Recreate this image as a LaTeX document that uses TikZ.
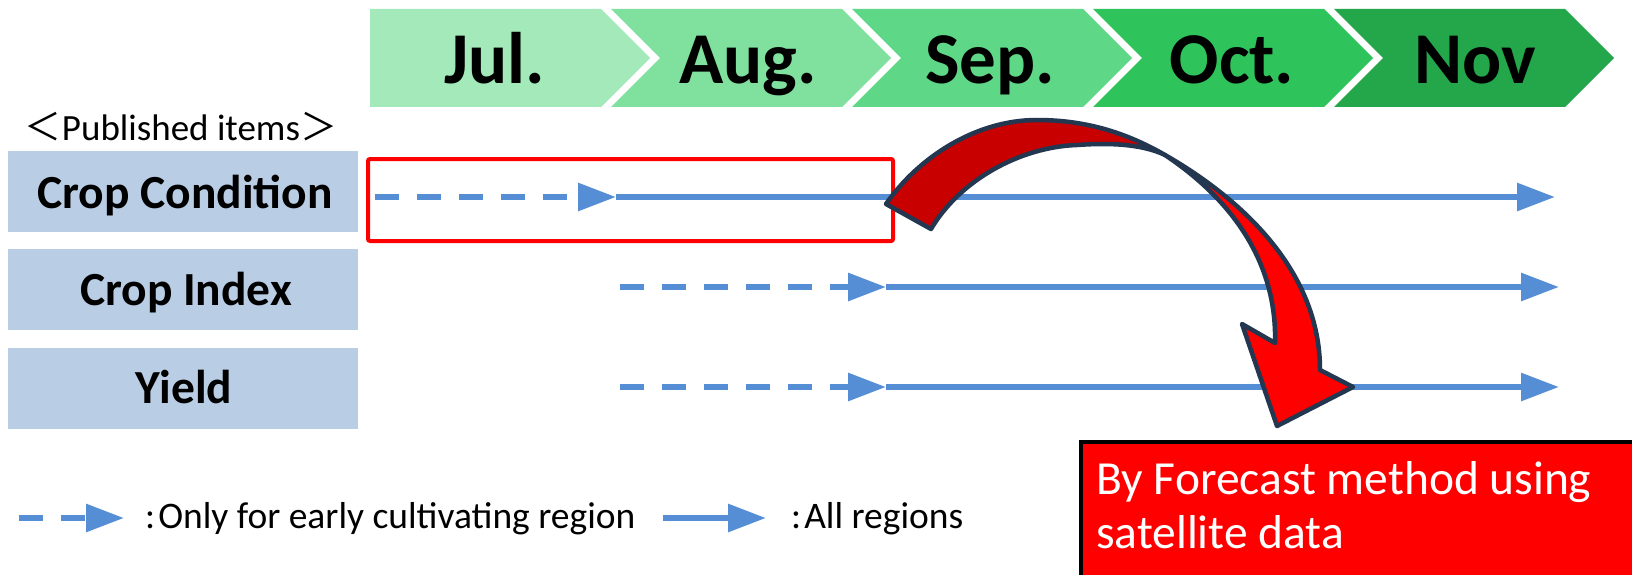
\documentclass[tikz,border=0pt]{standalone}
\usepackage{fontspec}
\setmainfont{Carlito}
\newfontfamily\cjkfont{Noto Sans CJK JP}
\usetikzlibrary{arrows.meta}
\definecolor{mA}{RGB}{163,233,185}
\definecolor{mB}{RGB}{128,224,158}
\definecolor{mC}{RGB}{94,216,135}
\definecolor{mD}{RGB}{46,196,91}
\definecolor{mE}{RGB}{36,166,74}
\definecolor{lbl}{RGB}{185,205,229}
\definecolor{lineblue}{RGB}{85,142,213}
\definecolor{navy}{RGB}{35,55,80}
\definecolor{darkred}{RGB}{200,0,0}
\begin{document}
\begin{tikzpicture}[x=1pt,y=-1pt,
  monthtxt/.style={font=\bfseries\fontsize{73}{73}\selectfont, anchor=base, inner sep=0pt},
  itembox/.style={fill=lbl, draw=none, anchor=north west, minimum width=350pt, minimum height=81pt, inner sep=0pt},
  itemtxt/.style={font=\bfseries\fontsize{47.5}{47.5}\selectfont, anchor=base, inner sep=0pt},
  flow/.style={draw=lineblue, line width=6pt, -{Triangle[length=38pt,width=27pt]}},
  flowdash/.style={flow, dash pattern=on 24pt off 18pt},
  legtxt/.style={font=\fontsize{37.5}{37.5}\selectfont, anchor=base west, inner sep=0pt},
  bigarrow/.style={draw=navy, line width=4.5pt, line join=round}]
\clip (0,0) rectangle (1632,575);
\fill[white] (0,0) rectangle (1632,575);
% month band
\fill[mA] (370,9) -- (601,9) -- (650,58) -- (601,107) -- (370,107) -- cycle;
\fill[mB] (611,9) -- (842,9) -- (891,58) -- (842,107) -- (611,107) -- (660,58) -- cycle;
\fill[mC] (852,9) -- (1083,9) -- (1132,58) -- (1083,107) -- (852,107) -- (901,58) -- cycle;
\fill[mD] (1093,9) -- (1324,9) -- (1373,58) -- (1324,107) -- (1093,107) -- (1142,58) -- cycle;
\fill[mE] (1334,9) -- (1565,9) -- (1614,58) -- (1565,107) -- (1334,107) -- (1383,58) -- cycle;
\node[monthtxt] (jul) at (495,84) {Jul.};
\node[monthtxt] (aug) at (748,84) {Aug.};
\node[monthtxt] (sep) at (990,84) {Sep.};
\node[monthtxt] (oct) at (1232,84) {Oct.};
\node[monthtxt] (nov) at (1475,84) {Nov};
% published items
\node[anchor=base, font=\fontsize{37}{37}\selectfont, inner sep=0pt] (pub) at (181,140) {{\cjkfont ＜}Published items{\cjkfont ＞}};
\node[itembox] (ccbox) at (8,151) {};
\node[itembox] (cibox) at (8,249) {};
\node[itembox] (ylbox) at (8,348) {};
\node[itemtxt] (cctxt) at (185,208) {Crop Condition};
\node[itemtxt] (citxt) at (186,305) {Crop Index};
\node[itemtxt] (yltxt) at (184,403) {Yield};
% highlight rectangle
\node[draw=red, line width=4pt, rounded corners=2pt, anchor=north west, minimum width=525pt, minimum height=82pt, inner sep=0pt] (hl) at (366,157) {};
% timeline coordinates
\coordinate (cca) at (375,197);
\coordinate (ccb) at (616,197);
\coordinate (ccc) at (1555,197);
\coordinate (cia) at (620,287);
\coordinate (cib) at (886,287);
\coordinate (cic) at (1559,287);
\coordinate (yla) at (620,387);
\coordinate (ylb) at (886,387);
\coordinate (ylc) at (1559,387);
\draw[flowdash] (cca) -- (ccb);
\draw[flow] (ccb) -- (ccc);
\draw[flowdash] (cia) -- (cib);
\draw[flow] (cib) -- (cic);
\draw[flowdash] (yla) -- (ylb);
\draw[flow] (ylb) -- (ylc);
% curved arrow
\filldraw[bigarrow, fill=darkred]
 (886,204) .. controls (918,158) and (975,120) .. (1037,120)
 .. controls (1090,120) and (1130,135) .. (1165,155)
 .. controls (1140,143) and (1105,143) .. (1077,145)
 .. controls (1020,147) and (960,180) .. (931,229) -- cycle;
\filldraw[bigarrow, fill=red]
 (1165,155) .. controls (1240,198) and (1320,270) .. (1320,370)
 -- (1353,387) -- (1277,426) -- (1242,324) -- (1275,343)
 .. controls (1277,270) and (1240,205) .. (1165,155) -- cycle;
% forecast box
\node[draw=black, fill=red, line width=4pt, anchor=north west, minimum width=600pt, minimum height=170pt, inner sep=0pt] (fbox) at (1079,440) {};
\node[anchor=base west, font=\fontsize{47.5}{47.5}\selectfont, text=white, inner sep=0pt] (ft1) at (1096,494) {By Forecast method using};
\node[anchor=base west, font=\fontsize{47.5}{47.5}\selectfont, text=white, inner sep=0pt] (ft2) at (1096,548) {satellite data};
% legend
\coordinate (lda) at (19,518);
\coordinate (ldb) at (124,518);
\coordinate (lsa) at (663,518);
\coordinate (lsb) at (766,518);
\draw[flowdash] (lda) -- (ldb);
\draw[flow] (lsa) -- (lsb);
\node[legtxt] (ldt) at (145,528) {:\kern3pt Only for early cultivating region};
\node[legtxt] (lst) at (791,528) {:\kern3pt All regions};
\end{tikzpicture}
\end{document}
